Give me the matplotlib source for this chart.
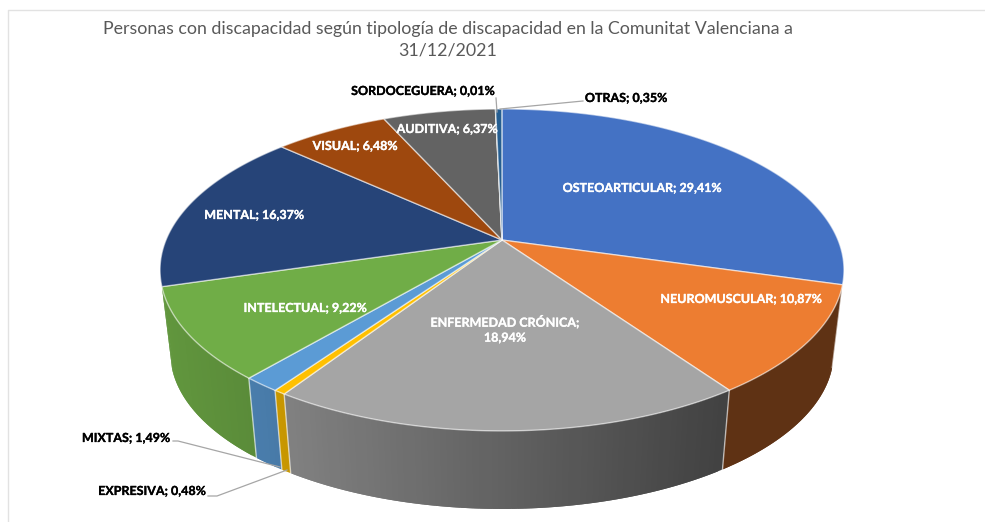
import numpy as np
import matplotlib
matplotlib.use('Agg')
import matplotlib.pyplot as plt
import matplotlib.patheffects as pe
from matplotlib.colors import to_rgb

title = 'Personas con discapacidad según tipología de discapacidad en la Comunitat Valenciana a\n31/12/2021'

categories = ['OSTEOARTICULAR', 'NEUROMUSCULAR', 'ENFERMEDAD CRÓNICA', 'EXPRESIVA', 'MIXTAS',
              'INTELECTUAL', 'MENTAL', 'VISUAL', 'AUDITIVA', 'SORDOCEGUERA', 'OTRAS']
shares = [29.41, 10.87, 18.94, 0.48, 1.49, 9.22, 16.37, 6.48, 6.37, 0.01, 0.35]
colors = ['#4472C4', '#ED7D31', '#A5A5A5', '#FFC000', '#5B9BD5', '#70AD47',
          '#264478', '#9E480E', '#636363', '#997300', '#255E91']

# label centres in pixels
label_pos = {
    'OSTEOARTICULAR': (642, 188), 'NEUROMUSCULAR': (741, 299), 'ENFERMEDAD CRÓNICA': (505, 329),
    'EXPRESIVA': (152, 491), 'MIXTAS': (126, 438), 'INTELECTUAL': (305, 308), 'MENTAL': (254, 215),
    'VISUAL': (355, 146), 'AUDITIVA': (447, 129), 'SORDOCEGUERA': (423, 91), 'OTRAS': (626, 98),
}
outside = ['EXPRESIVA', 'MIXTAS', 'SORDOCEGUERA', 'OTRAS']
walled = ['NEUROMUSCULAR', 'ENFERMEDAD CRÓNICA', 'EXPRESIVA', 'MIXTAS', 'INTELECTUAL']

leaders = [
    ([173, 178, 280], [441, 441, 467]),
    ([208, 217, 287], [496, 496, 470]),
    ([496, 497], [98, 112]),
    ([583, 500], [101, 109]),
]

# perspective of the disc, in pixels
CX, CY = 502.0, 240.0
RX, RY, K = 336.0, 155.4, 0.186
DEPTH_SCALE, VAN_Y = 0.97, 3033.0


def project(frac, bottom=False):
    t = 2 * np.pi * np.asarray(frac)
    u, v = np.sin(t), np.cos(t)
    x = CX + RX * u / (1 + K * v)
    y = CY - RY * v / (1 + K * v)
    if bottom:
        x = CX + DEPTH_SCALE * (x - CX)
        y = VAN_Y + DEPTH_SCALE * (y - VAN_Y)
    return x, y


def shade(x):
    return np.interp(x, [160, 285, 723, 845], [0.87, 0.78, 0.40, 0.40])


fig = plt.figure(figsize=(9.85, 5.22), dpi=100)
ax = fig.add_axes([0, 0, 1, 1])
ax.set_xlim(0, 985)
ax.set_ylim(522, 0)
ax.axis('off')

# chart frame
ax.plot([8, 8, 985], [522, 10, 10], color='#e2e2e2', lw=1)

ends = np.cumsum(shares) / 100
starts = np.r_[0, ends[:-1]]

# side wall, each strip overlaps the next one so no seams show
for name, a, b, c in zip(categories, starts, ends, colors):
    if name not in walled:
        continue
    n = max(2, int((b - a) * 400))
    fr = np.linspace(a, b, n + 1)
    xt, yt = project(fr)
    xb, yb = project(fr, bottom=True)
    base = np.array(to_rgb(c))
    for i in range(n):
        j = min(i + 2, n)
        col = tuple(base * shade((xt[i] + xt[i + 1]) / 2))
        ax.fill([xt[i], xt[j], xb[j], xb[i]], [yt[i], yt[j], yb[j], yb[i]],
                facecolor=col, edgecolor='none', lw=0, zorder=2)
    # seam at the start of the slice
    ax.plot([xt[0], xb[0]], [yt[0], yb[0]], color='white', alpha=0.6, lw=1, zorder=3)

# top face
for a, b, c in zip(starts, ends, colors):
    fr = np.linspace(a, b, max(2, int((b - a) * 400)) + 1)
    xt, yt = project(fr)
    ax.fill(np.r_[CX, xt], np.r_[CY, yt], facecolor=c, edgecolor=(1, 1, 1, 0.55), lw=1,
            joinstyle='round', zorder=4)

for xs, ys in leaders:
    ax.plot(xs, ys, color='#a6a6a6', lw=0.9, zorder=5)

for name, val in zip(categories, shares):
    txt = f'{name}; {val:.2f}%'.replace('.', ',')
    if name == 'ENFERMEDAD CRÓNICA':
        txt = txt.replace('; ', ';\n')
    x, y = label_pos[name]
    col = 'black' if name in outside else 'white'
    t = ax.text(x, y, txt, ha='center', va='center', family='Lato', fontweight='bold', fontsize=9,
                color=col, linespacing=1.3, zorder=6)
    t.set_path_effects([pe.withStroke(linewidth=0.2, foreground=col)])

ax.text(448, 40, title, ha='center', va='center', family='Lato', fontsize=12.8, color='#595959',
        linespacing=1.4, zorder=6)

fig.savefig('out.png', dpi=100)
